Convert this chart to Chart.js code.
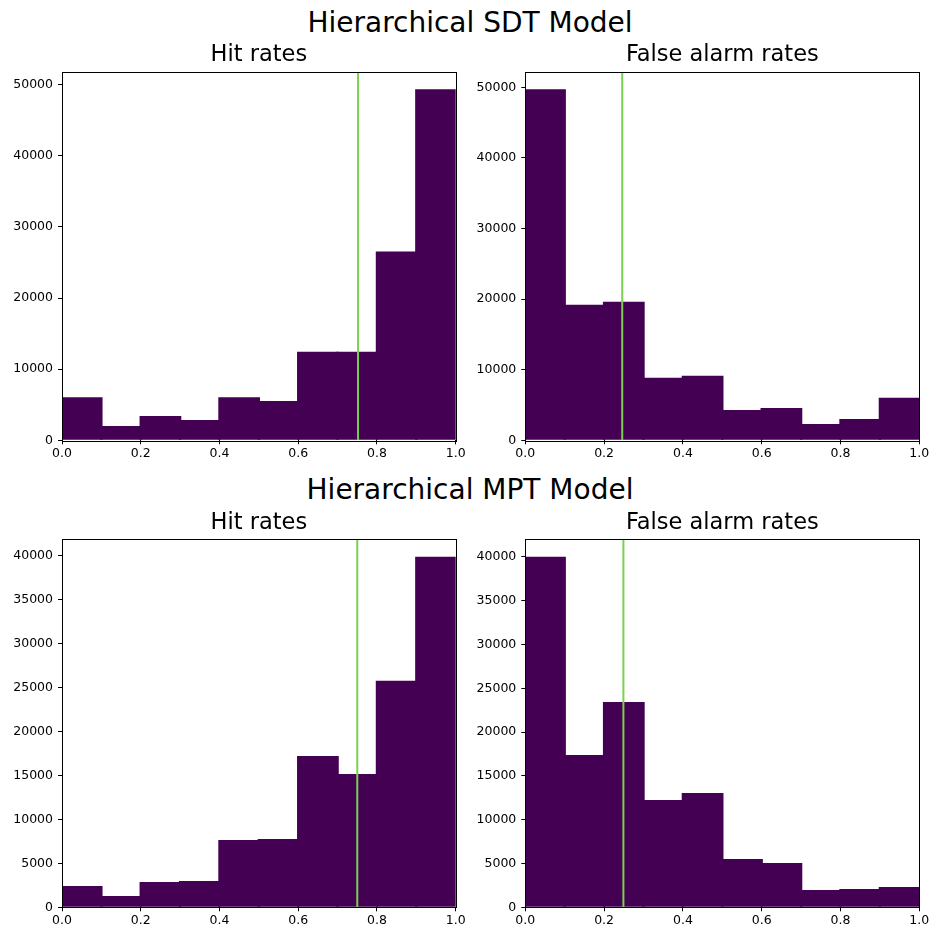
<!DOCTYPE html>
<html>
<head>
<meta charset="utf-8">
<script src="https://cdn.jsdelivr.net/npm/chart.js@4"></script>
<style>
  html, body { margin:0; padding:0; background:#fff; width:933px; height:930px; overflow:hidden; }
  .sup { position:absolute; left:0; width:940px; text-align:center; font-family:'DejaVu Sans'; font-size:28px; line-height:28px; color:#000; }
  canvas { position:absolute; }
</style>
</head>
<body>
<div class="sup" style="top:9px">Hierarchical SDT Model</div>
<div class="sup" style="top:476px">Hierarchical MPT Model</div>
<canvas id="c1" width="470" height="426" style="left:0;top:36px"></canvas>
<canvas id="c2" width="463" height="426" style="left:470px;top:36px"></canvas>
<canvas id="c3" width="470" height="426" style="left:0;top:504px"></canvas>
<canvas id="c4" width="463" height="426" style="left:470px;top:504px"></canvas>
<script>
// bin centres (bins of width 0.1 on [0,1])
const binCenters = [0.05, 0.15, 0.25, 0.35, 0.45, 0.55, 0.65, 0.75, 0.85, 0.95];
const xTicks = [0, 0.2, 0.4, 0.6, 0.8, 1.0];
const sdtYTicks = [0, 10000, 20000, 30000, 40000, 50000];
const mptYTicks = [0, 5000, 10000, 15000, 20000, 25000, 30000, 35000, 40000];

// counts
const sdtHits = [6050, 2000, 3400, 2850, 6050, 5540, 12440, 12440, 26530, 49340];
const sdtFalseAlarms = [49720, 19200, 19630, 8850, 9130, 4300, 4590, 2320, 3030, 6010];
const mptHits = [2430, 1290, 2880, 3000, 7660, 7770, 17210, 15160, 25740, 39840];
const mptFalseAlarms = [40000, 17390, 23440, 12250, 13050, 5520, 5060, 1980, 2090, 2320];

// green marker lines
const sdtHitMarker = 0.752;
const sdtFaMarker = 0.246;
const mptHitMarker = 0.75;
const mptFaMarker = 0.249;

const FONT = 'DejaVu Sans';

// spines on all four sides, like matplotlib
const frame = {
  id: 'frame',
  afterDatasetsDraw(chart) {
    const a = chart.chartArea, ctx = chart.ctx;
    ctx.save();
    ctx.strokeStyle = '#000'; ctx.lineWidth = 1;
    ctx.strokeRect(Math.round(a.left) + 0.5, Math.round(a.top) + 0.5, Math.round(a.right - a.left), Math.round(a.bottom - a.top));
    ctx.restore();
  }
};

function makePanel(id, cx, cy, cw, ch, area, title, counts, marker, yTicks) {
  const yMax = Math.max(...counts) * 1.05;
  const titleH = area.top - cy;
  return new Chart(document.getElementById(id), {
    type: 'bar',
    data: {
      datasets: [
        { type: 'line', data: [{ x: marker, y: 0 }, { x: marker, y: yMax }], borderColor: '#7ad151', borderWidth: 2, pointRadius: 0 },
        { data: binCenters.map((x, i) => ({ x, y: counts[i] })), backgroundColor: '#440154', borderWidth: 0, barPercentage: 1.06, categoryPercentage: 1 }
      ]
    },
    options: {
      responsive: false, animation: false,
      layout: { padding: { left: 0, top: 0, bottom: 0, right: cx + cw - area.right } },
      plugins: {
        legend: { display: false }, tooltip: { enabled: false },
        title: { display: true, text: title, fullSize: false, color: '#000', font: { family: FONT, size: 22.5, weight: 'normal', lineHeight: 1.2 },
          padding: { top: 6, bottom: titleH - 6 - 27 } }
      },
      scales: {
        x: {
          type: 'linear', min: 0, max: 1, offset: false,
          afterBuildTicks: s => { s.ticks = xTicks.map(v => ({ value: v })); },
          afterFit: s => { s.height = cy + ch - area.bottom; },
          ticks: { callback: v => v.toFixed(1), color: '#000', font: { family: FONT, size: 12.5 }, padding: 2, maxRotation: 0, autoSkip: false },
          grid: { offset: false, drawOnChartArea: false, drawTicks: true, tickLength: 4, color: '#000' },
          border: { display: false }
        },
        y: {
          type: 'linear', min: 0, max: yMax,
          afterBuildTicks: s => { s.ticks = yTicks.map(v => ({ value: v })); },
          afterFit: s => { s.width = area.left - cx; },
          ticks: { callback: v => String(v), color: '#000', font: { family: FONT, size: 12.5 }, padding: 5, autoSkip: false },
          grid: { offset: false, drawOnChartArea: false, drawTicks: true, tickLength: 4, color: '#000' },
          border: { display: false }
        }
      }
    },
    plugins: [frame]
  });
}

makePanel('c1', 0, 36, 470, 426, { left: 62, top: 71.7, right: 455.7, bottom: 440.3 }, 'Hit rates', sdtHits, sdtHitMarker, sdtYTicks);
makePanel('c2', 470, 36, 463, 426, { left: 525.3, top: 71.7, right: 919.3, bottom: 440.3 }, 'False alarm rates', sdtFalseAlarms, sdtFaMarker, sdtYTicks);
makePanel('c3', 0, 504, 470, 426, { left: 62, top: 539.3, right: 455.7, bottom: 907.3 }, 'Hit rates', mptHits, mptHitMarker, mptYTicks);
makePanel('c4', 470, 504, 463, 426, { left: 525.3, top: 539.3, right: 919.3, bottom: 907.3 }, 'False alarm rates', mptFalseAlarms, mptFaMarker, mptYTicks);
</script>
</body>
</html>
